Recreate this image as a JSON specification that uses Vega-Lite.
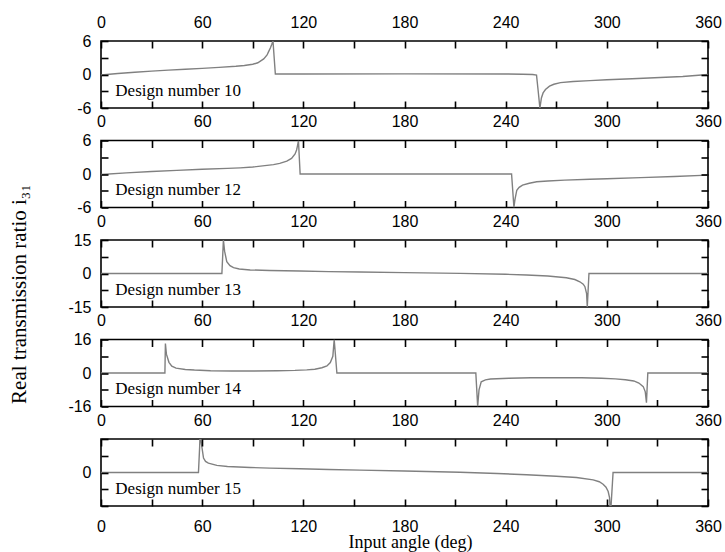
{
  "$schema": "https://vega.github.io/schema/vega-lite/v6.json",
  "padding": {"left": 7, "top": 13, "right": 0, "bottom": 2},
  "background": "white",
  "bounds": "flush",
  "spacing": 32.5,
  "config": {
    "view": {"stroke": "#000", "strokeWidth": 1.6},
    "axis": {
      "domain": false,
      "grid": false,
      "labelFont": "Liberation Sans",
      "labelFontSize": 16,
      "labelColor": "#000",
      "labelFlush": false,
      "labelOverlap": false,
      "titleFont": "Liberation Serif",
      "titleFontWeight": "normal",
      "titleColor": "#000"
    }
  },
  "datasets": {
    "d10": [
      {"angle": 0, "ratio": -0.1}, {"angle": 10, "ratio": 0.18}, {"angle": 20, "ratio": 0.4}, {"angle": 30, "ratio": 0.6},
      {"angle": 40, "ratio": 0.78}, {"angle": 50, "ratio": 0.95}, {"angle": 60, "ratio": 1.1}, {"angle": 70, "ratio": 1.28},
      {"angle": 80, "ratio": 1.48}, {"angle": 85, "ratio": 1.62}, {"angle": 90, "ratio": 1.83}, {"angle": 93, "ratio": 2.1},
      {"angle": 96.5, "ratio": 2.8}, {"angle": 98.5, "ratio": 3.5}, {"angle": 99.4, "ratio": 4.1}, {"angle": 100.5, "ratio": 4.8},
      {"angle": 101.3, "ratio": 5.4}, {"angle": 102, "ratio": 6}, {"angle": 103.4, "ratio": 0.1}, {"angle": 120, "ratio": 0.1},
      {"angle": 180, "ratio": 0.12}, {"angle": 240, "ratio": 0.1}, {"angle": 250, "ratio": 0.05}, {"angle": 256, "ratio": 0},
      {"angle": 258.3, "ratio": -0.1}, {"angle": 259.3, "ratio": -3}, {"angle": 260.3, "ratio": -6}, {"angle": 261.2, "ratio": -4.2},
      {"angle": 262.2, "ratio": -3.3}, {"angle": 263.6, "ratio": -2.7}, {"angle": 266, "ratio": -2.1}, {"angle": 268.6, "ratio": -1.75},
      {"angle": 272.5, "ratio": -1.45}, {"angle": 280, "ratio": -1.25}, {"angle": 290, "ratio": -1.1}, {"angle": 300, "ratio": -0.95},
      {"angle": 315, "ratio": -0.75}, {"angle": 331.6, "ratio": -0.55}, {"angle": 345, "ratio": -0.35}, {"angle": 360, "ratio": 0}
    ],
    "d12": [
      {"angle": 0, "ratio": -0.1}, {"angle": 15, "ratio": 0.2}, {"angle": 30, "ratio": 0.45}, {"angle": 45, "ratio": 0.65},
      {"angle": 60, "ratio": 0.85}, {"angle": 75, "ratio": 1.0}, {"angle": 82.5, "ratio": 1.1}, {"angle": 90, "ratio": 1.25},
      {"angle": 102.3, "ratio": 1.68}, {"angle": 106, "ratio": 1.9}, {"angle": 110.2, "ratio": 2.3}, {"angle": 113, "ratio": 2.8},
      {"angle": 115.1, "ratio": 3.6}, {"angle": 116, "ratio": 4.3}, {"angle": 116.5, "ratio": 5.0}, {"angle": 117.1, "ratio": 6},
      {"angle": 118.1, "ratio": 0}, {"angle": 180, "ratio": 0}, {"angle": 243.5, "ratio": 0}, {"angle": 244.9, "ratio": -6},
      {"angle": 245.5, "ratio": -4.6}, {"angle": 246.6, "ratio": -2.9}, {"angle": 248, "ratio": -2.4}, {"angle": 250, "ratio": -2.0},
      {"angle": 254, "ratio": -1.65}, {"angle": 258.4, "ratio": -1.4}, {"angle": 265, "ratio": -1.25}, {"angle": 275, "ratio": -1.1},
      {"angle": 290, "ratio": -0.95}, {"angle": 300, "ratio": -0.85}, {"angle": 320, "ratio": -0.65}, {"angle": 340, "ratio": -0.45},
      {"angle": 360, "ratio": -0.2}
    ],
    "d13": [
      {"angle": 0, "ratio": 0}, {"angle": 71.7, "ratio": 0}, {"angle": 72.6, "ratio": 15}, {"angle": 73.3, "ratio": 10},
      {"angle": 74.6, "ratio": 5.3}, {"angle": 76.5, "ratio": 3.5}, {"angle": 78.6, "ratio": 2.6}, {"angle": 82, "ratio": 2.0},
      {"angle": 88.5, "ratio": 1.6}, {"angle": 100, "ratio": 1.35}, {"angle": 118, "ratio": 1.1}, {"angle": 135, "ratio": 0.85},
      {"angle": 153.6, "ratio": 0.65}, {"angle": 180, "ratio": 0.4}, {"angle": 213, "ratio": 0.05}, {"angle": 240, "ratio": -0.35},
      {"angle": 252.4, "ratio": -0.65}, {"angle": 265, "ratio": -1.1}, {"angle": 276, "ratio": -1.9}, {"angle": 281, "ratio": -2.7},
      {"angle": 284, "ratio": -3.7}, {"angle": 286, "ratio": -4.8}, {"angle": 287, "ratio": -5.9}, {"angle": 288, "ratio": -9},
      {"angle": 288.4, "ratio": -15}, {"angle": 289.4, "ratio": 0}, {"angle": 360, "ratio": 0}
    ],
    "d14": [
      {"angle": 0, "ratio": 0}, {"angle": 37.9, "ratio": 0}, {"angle": 38.2, "ratio": 14.1}, {"angle": 38.8, "ratio": 9},
      {"angle": 40.3, "ratio": 5.1}, {"angle": 42, "ratio": 3.3}, {"angle": 44.5, "ratio": 2.3}, {"angle": 50, "ratio": 1.7},
      {"angle": 55.4, "ratio": 1.4}, {"angle": 65, "ratio": 1.1}, {"angle": 77.4, "ratio": 0.95}, {"angle": 90, "ratio": 0.95},
      {"angle": 104.8, "ratio": 1.1}, {"angle": 115, "ratio": 1.25}, {"angle": 122, "ratio": 1.5}, {"angle": 126.8, "ratio": 1.8},
      {"angle": 131, "ratio": 2.5}, {"angle": 134, "ratio": 3.4}, {"angle": 136, "ratio": 5}, {"angle": 137.5, "ratio": 8},
      {"angle": 138.3, "ratio": 16}, {"angle": 139.9, "ratio": 0}, {"angle": 222.3, "ratio": 0}, {"angle": 223.4, "ratio": -16},
      {"angle": 224.2, "ratio": -8}, {"angle": 225.5, "ratio": -4.2}, {"angle": 228, "ratio": -3.3}, {"angle": 231, "ratio": -2.9},
      {"angle": 242, "ratio": -2.5}, {"angle": 255, "ratio": -2.3}, {"angle": 269.5, "ratio": -2.25}, {"angle": 285, "ratio": -2.3},
      {"angle": 296.9, "ratio": -2.5}, {"angle": 305, "ratio": -2.8}, {"angle": 311, "ratio": -3.2}, {"angle": 316, "ratio": -3.8},
      {"angle": 319, "ratio": -4.8}, {"angle": 321.6, "ratio": -6.5}, {"angle": 322.8, "ratio": -9}, {"angle": 323.5, "ratio": -14.2},
      {"angle": 324.3, "ratio": 0}, {"angle": 360, "ratio": 0}
    ],
    "d15": [
      {"angle": 0, "ratio": 0}, {"angle": 57.8, "ratio": 0}, {"angle": 58.5, "ratio": 12}, {"angle": 58.8, "ratio": 20},
      {"angle": 59.5, "ratio": 14}, {"angle": 60.8, "ratio": 6.9}, {"angle": 62, "ratio": 5.3}, {"angle": 63.7, "ratio": 4.5},
      {"angle": 68.7, "ratio": 3.4}, {"angle": 75, "ratio": 2.9}, {"angle": 88.5, "ratio": 2.4}, {"angle": 100, "ratio": 2.1},
      {"angle": 118, "ratio": 1.8}, {"angle": 135, "ratio": 1.45}, {"angle": 153.6, "ratio": 1.15}, {"angle": 180, "ratio": 0.75},
      {"angle": 212.9, "ratio": 0.15}, {"angle": 235, "ratio": -0.45}, {"angle": 252.4, "ratio": -1.1}, {"angle": 270, "ratio": -1.8},
      {"angle": 282, "ratio": -2.4}, {"angle": 291.9, "ratio": -3.5}, {"angle": 295.5, "ratio": -4.4}, {"angle": 297.8, "ratio": -5.6},
      {"angle": 299.5, "ratio": -7}, {"angle": 300.8, "ratio": -9.1}, {"angle": 301.6, "ratio": -12}, {"angle": 302.2, "ratio": -20},
      {"angle": 303.7, "ratio": 0}, {"angle": 360, "ratio": 0}
    ]
  },
  "vconcat": [
    {
      "width": 607, "height": 67,
      "layer": [
        {
          "data": {"name": "d10"},
          "mark": {"type": "line", "color": "#808080", "strokeWidth": 1.4, "clip": true},
          "encoding": {
            "x": {"field": "angle", "type": "quantitative", "scale": {"domain": [0, 360], "nice": false},
                  "axis": {"orient": "top", "title": null, "tickSize": 7, "offset": -7, "tickColor": "#000", "tickWidth": 1.6, "zindex": 1, "values": [0, 30, 60, 90, 120, 150, 180, 210, 240, 270, 300, 330, 360], "labelPadding": 11, "labelExpr": "datum.value % 60 === 0 ? datum.label : ''"}},
            "y": {"field": "ratio", "type": "quantitative", "scale": {"domain": [-6, 6], "nice": false},
                  "axis": {"orient": "left", "title": null, "tickSize": 7, "offset": -7, "tickColor": "#000", "tickWidth": 1.6, "zindex": 1, "values": [-6, -3, 0, 3, 6], "labelPadding": 10, "labelExpr": "indexof([-6, 0, 6], datum.value) >= 0 ? toString(datum.value) : ''"}}
          }
        },
        {
          "data": {"values": [{"label": "Design number 10"}]},
          "mark": {"type": "text", "font": "Liberation Serif", "fontSize": 17, "align": "left", "baseline": "alphabetic", "color": "#000"},
          "encoding": {
            "x": {"datum": 8.5, "type": "quantitative", "scale": {"domain": [0, 360], "nice": false},
                  "axis": {"orient": "bottom", "title": null, "labels": false, "tickSize": 7, "offset": -7, "tickColor": "#000", "tickWidth": 1.6, "zindex": 1, "values": [0, 30, 60, 90, 120, 150, 180, 210, 240, 270, 300, 330, 360]}},
            "y": {"datum": -3.85, "type": "quantitative", "scale": {"domain": [-6, 6], "nice": false},
                  "axis": {"orient": "right", "title": null, "labels": false, "tickSize": 7, "offset": -7, "tickColor": "#000", "tickWidth": 1.6, "zindex": 1, "values": [-6, -3, 0, 3, 6]}},
            "text": {"field": "label"}
          }
        }
      ],
      "resolve": {"axis": {"x": "independent", "y": "independent"}}
    },
    {
      "width": 607, "height": 67,
      "layer": [
        {
          "data": {"name": "d12"},
          "mark": {"type": "line", "color": "#808080", "strokeWidth": 1.4, "clip": true},
          "encoding": {
            "x": {"field": "angle", "type": "quantitative", "scale": {"domain": [0, 360], "nice": false},
                  "axis": {"orient": "top", "title": null, "tickSize": 7, "offset": -7, "tickColor": "#000", "tickWidth": 1.6, "zindex": 1, "values": [0, 30, 60, 90, 120, 150, 180, 210, 240, 270, 300, 330, 360], "labelPadding": 11, "labelExpr": "datum.value % 60 === 0 ? datum.label : ''"}},
            "y": {"field": "ratio", "type": "quantitative", "scale": {"domain": [-6, 6], "nice": false},
                  "axis": {"orient": "left", "title": null, "tickSize": 7, "offset": -7, "tickColor": "#000", "tickWidth": 1.6, "zindex": 1, "values": [-6, -3, 0, 3, 6], "labelPadding": 10, "labelExpr": "indexof([-6, 0, 6], datum.value) >= 0 ? toString(datum.value) : ''"}}
          }
        },
        {
          "data": {"values": [{"label": "Design number 12"}]},
          "mark": {"type": "text", "font": "Liberation Serif", "fontSize": 17, "align": "left", "baseline": "alphabetic", "color": "#000"},
          "encoding": {
            "x": {"datum": 8.5, "type": "quantitative", "scale": {"domain": [0, 360], "nice": false},
                  "axis": {"orient": "bottom", "title": null, "labels": false, "tickSize": 7, "offset": -7, "tickColor": "#000", "tickWidth": 1.6, "zindex": 1, "values": [0, 30, 60, 90, 120, 150, 180, 210, 240, 270, 300, 330, 360]}},
            "y": {"datum": -3.85, "type": "quantitative", "scale": {"domain": [-6, 6], "nice": false},
                  "axis": {"orient": "right", "title": null, "labels": false, "tickSize": 7, "offset": -7, "tickColor": "#000", "tickWidth": 1.6, "zindex": 1, "values": [-6, -3, 0, 3, 6]}},
            "text": {"field": "label"}
          }
        }
      ],
      "resolve": {"axis": {"x": "independent", "y": "independent"}}
    },
    {
      "width": 607, "height": 67,
      "layer": [
        {
          "data": {"name": "d13"},
          "mark": {"type": "line", "color": "#808080", "strokeWidth": 1.4, "clip": true},
          "encoding": {
            "x": {"field": "angle", "type": "quantitative", "scale": {"domain": [0, 360], "nice": false},
                  "axis": {"orient": "top", "title": null, "tickSize": 7, "offset": -7, "tickColor": "#000", "tickWidth": 1.6, "zindex": 1, "values": [0, 30, 60, 90, 120, 150, 180, 210, 240, 270, 300, 330, 360], "labelPadding": 11, "labelExpr": "datum.value % 60 === 0 ? datum.label : ''"}},
            "y": {"field": "ratio", "type": "quantitative", "scale": {"domain": [-15, 15], "nice": false},
                  "axis": {"orient": "left", "tickSize": 7, "offset": -7, "tickColor": "#000", "tickWidth": 1.6, "zindex": 1, "values": [-15, -7.5, 0, 7.5, 15], "labelPadding": 10, "labelExpr": "indexof([-15, 0, 15], datum.value) >= 0 ? toString(datum.value) : ''",
                           "title": "Real transmission ratio i₃₁", "titleFontSize": 21, "titleAngle": -90, "titleAlign": "center", "titleBaseline": "alphabetic", "titleX": -82.7, "titleY": 53.7}}
          }
        },
        {
          "data": {"values": [{"label": "Design number 13"}]},
          "mark": {"type": "text", "font": "Liberation Serif", "fontSize": 17, "align": "left", "baseline": "alphabetic", "color": "#000"},
          "encoding": {
            "x": {"datum": 8.5, "type": "quantitative", "scale": {"domain": [0, 360], "nice": false},
                  "axis": {"orient": "bottom", "title": null, "labels": false, "tickSize": 7, "offset": -7, "tickColor": "#000", "tickWidth": 1.6, "zindex": 1, "values": [0, 30, 60, 90, 120, 150, 180, 210, 240, 270, 300, 330, 360]}},
            "y": {"datum": -9.6, "type": "quantitative", "scale": {"domain": [-15, 15], "nice": false},
                  "axis": {"orient": "right", "title": null, "labels": false, "tickSize": 7, "offset": -7, "tickColor": "#000", "tickWidth": 1.6, "zindex": 1, "values": [-15, -7.5, 0, 7.5, 15]}},
            "text": {"field": "label"}
          }
        }
      ],
      "resolve": {"axis": {"x": "independent", "y": "independent"}}
    },
    {
      "width": 607, "height": 67,
      "layer": [
        {
          "data": {"name": "d14"},
          "mark": {"type": "line", "color": "#808080", "strokeWidth": 1.4, "clip": true},
          "encoding": {
            "x": {"field": "angle", "type": "quantitative", "scale": {"domain": [0, 360], "nice": false},
                  "axis": {"orient": "top", "title": null, "tickSize": 7, "offset": -7, "tickColor": "#000", "tickWidth": 1.6, "zindex": 1, "values": [0, 30, 60, 90, 120, 150, 180, 210, 240, 270, 300, 330, 360], "labelPadding": 11, "labelExpr": "datum.value % 60 === 0 ? datum.label : ''"}},
            "y": {"field": "ratio", "type": "quantitative", "scale": {"domain": [-16, 16], "nice": false},
                  "axis": {"orient": "left", "title": null, "tickSize": 7, "offset": -7, "tickColor": "#000", "tickWidth": 1.6, "zindex": 1, "values": [-16, -8, 0, 8, 16], "labelPadding": 10, "labelExpr": "indexof([-16, 0, 16], datum.value) >= 0 ? toString(datum.value) : ''"}}
          }
        },
        {
          "data": {"values": [{"label": "Design number 14"}]},
          "mark": {"type": "text", "font": "Liberation Serif", "fontSize": 17, "align": "left", "baseline": "alphabetic", "color": "#000"},
          "encoding": {
            "x": {"datum": 8.5, "type": "quantitative", "scale": {"domain": [0, 360], "nice": false},
                  "axis": {"orient": "bottom", "title": null, "labels": false, "tickSize": 7, "offset": -7, "tickColor": "#000", "tickWidth": 1.6, "zindex": 1, "values": [0, 30, 60, 90, 120, 150, 180, 210, 240, 270, 300, 330, 360]}},
            "y": {"datum": -10.2, "type": "quantitative", "scale": {"domain": [-16, 16], "nice": false},
                  "axis": {"orient": "right", "title": null, "labels": false, "tickSize": 7, "offset": -7, "tickColor": "#000", "tickWidth": 1.6, "zindex": 1, "values": [-16, -8, 0, 8, 16]}},
            "text": {"field": "label"}
          }
        }
      ],
      "resolve": {"axis": {"x": "independent", "y": "independent"}}
    },
    {
      "width": 607, "height": 67,
      "layer": [
        {
          "data": {"name": "d15"},
          "mark": {"type": "line", "color": "#808080", "strokeWidth": 1.4, "clip": true},
          "encoding": {
            "x": {"field": "angle", "type": "quantitative", "scale": {"domain": [0, 360], "nice": false},
                  "axis": {"orient": "top", "title": null, "tickSize": 7, "offset": -7, "tickColor": "#000", "tickWidth": 1.6, "zindex": 1, "values": [0, 30, 60, 90, 120, 150, 180, 210, 240, 270, 300, 330, 360], "labelPadding": 11, "labelExpr": "datum.value % 60 === 0 ? datum.label : ''"}},
            "y": {"field": "ratio", "type": "quantitative", "scale": {"domain": [-16, 16], "nice": false},
                  "axis": {"orient": "left", "title": null, "tickSize": 7, "offset": -7, "tickColor": "#000", "tickWidth": 1.6, "zindex": 1, "values": [-16, -8, 0, 8, 16], "labelPadding": 10, "labelExpr": "datum.value === 0 ? '0' : ''"}}
          }
        },
        {
          "data": {"values": [{"label": "Design number 15"}]},
          "mark": {"type": "text", "font": "Liberation Serif", "fontSize": 17, "align": "left", "baseline": "alphabetic", "color": "#000"},
          "encoding": {
            "x": {"datum": 8.5, "type": "quantitative", "scale": {"domain": [0, 360], "nice": false},
                  "axis": {"orient": "bottom", "tickSize": 7, "offset": -7, "tickColor": "#000", "tickWidth": 1.6, "zindex": 1, "values": [0, 30, 60, 90, 120, 150, 180, 210, 240, 270, 300, 330, 360], "labelPadding": 12, "labelExpr": "datum.value % 60 === 0 ? datum.label : ''",
                           "title": "Input angle (deg)", "titleFontSize": 18, "titleAlign": "center", "titleBaseline": "alphabetic", "titleX": 309, "titleY": 48.7}},
            "y": {"datum": -10.2, "type": "quantitative", "scale": {"domain": [-16, 16], "nice": false},
                  "axis": {"orient": "right", "title": null, "labels": false, "tickSize": 7, "offset": -7, "tickColor": "#000", "tickWidth": 1.6, "zindex": 1, "values": [-16, -8, 0, 8, 16]}},
            "text": {"field": "label"}
          }
        }
      ],
      "resolve": {"axis": {"x": "independent", "y": "independent"}}
    }
  ]
}
